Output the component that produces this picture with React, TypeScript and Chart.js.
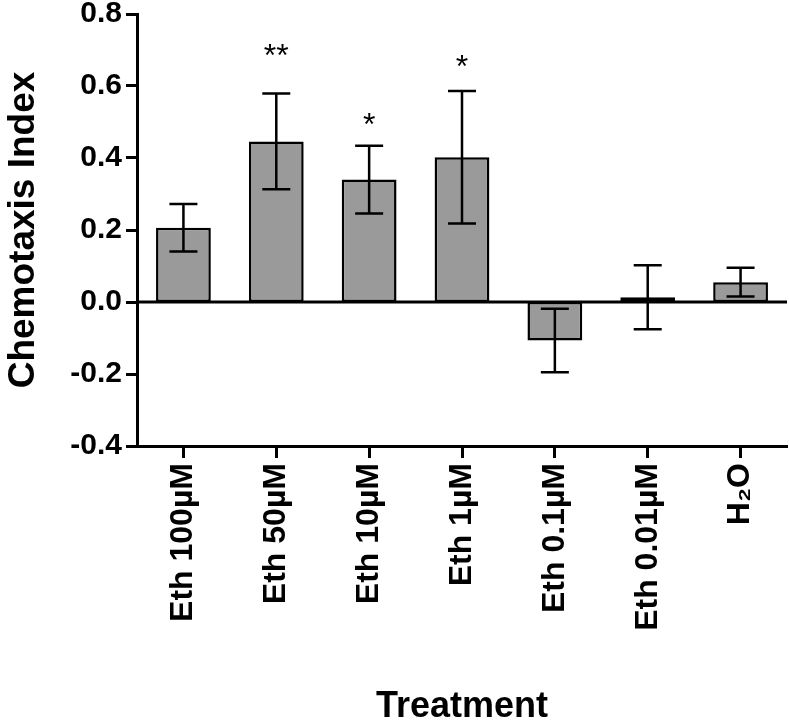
import React, { useEffect, useRef } from 'react';
import { Chart, registerables } from 'chart.js';

Chart.register(...registerables);

// ---- data ----
const categories = ['Eth 100µM', 'Eth 50µM', 'Eth 10µM', 'Eth 1µM', 'Eth 0.1µM', 'Eth 0.01µM', 'H₂O'];
const means = [0.206, 0.446, 0.340, 0.402, -0.107, 0.013, 0.055];
const sems = [0.066, 0.133, 0.094, 0.184, 0.088, 0.089, 0.040];
const sigLabels = ['', '**', '*', '*', '', '', ''];
const sigValues = [0, 0.705, 0.514, 0.675, 0, 0, 0];
const yTicksMin = -0.4;
const yTicksMax = 0.8;
const yTickStep = 0.2;

const FONT = "'Liberation Sans', Arial, Helvetica, sans-serif";

const overlayPlugin = {
  id: 'overlay',
  afterDatasetsDraw(chart: any) {
    const ctx = chart.ctx;
    const y = chart.scales.y;
    const area = chart.chartArea;
    const meta = chart.getDatasetMeta(0);
    ctx.save();
    // zero line
    const y0 = y.getPixelForValue(0);
    ctx.strokeStyle = '#000';
    ctx.lineWidth = 3;
    ctx.beginPath();
    ctx.moveTo(area.left, y0);
    ctx.lineTo(area.right, y0);
    ctx.stroke();
    // error bars
    ctx.lineWidth = 2.5;
    meta.data.forEach((bar: any, i: number) => {
      const cx = bar.x;
      const yt = y.getPixelForValue(means[i] + sems[i]);
      const yb = y.getPixelForValue(means[i] - sems[i]);
      ctx.beginPath();
      ctx.moveTo(cx, yt);
      ctx.lineTo(cx, yb);
      ctx.moveTo(cx - 14, yt);
      ctx.lineTo(cx + 14, yt);
      ctx.moveTo(cx - 14, yb);
      ctx.lineTo(cx + 14, yb);
      ctx.stroke();
      if (sigLabels[i]) {
        ctx.font = `32px ${FONT}`;
        ctx.textAlign = 'center';
        ctx.textBaseline = 'alphabetic';
        ctx.fillStyle = '#000';
        ctx.fillText(sigLabels[i], cx, y.getPixelForValue(sigValues[i]) + 18);
      }
    });
    ctx.restore();
  },
};

export default function App() {
  const ref = useRef<HTMLCanvasElement | null>(null);

  useEffect(() => {
    if (!ref.current) return;
    const chart = new Chart(ref.current, {
      type: 'bar',
      data: {
        labels: categories,
        datasets: [
          {
            data: means,
            backgroundColor: '#9a9a9a',
            borderColor: '#000',
            borderWidth: 2.5,
            borderSkipped: false,
            categoryPercentage: 1,
            barPercentage: 0.59,
          },
        ],
      },
      options: {
        animation: false,
        responsive: false,
        devicePixelRatio: 1,
        layout: { padding: { top: 14, right: 2, left: 0, bottom: 0 } },
        plugins: {
          legend: { display: false },
          tooltip: { enabled: false },
        },
        scales: {
          x: {
            type: 'category',
            offset: true,
            grid: {
              display: true,
              drawOnChartArea: false,
              drawTicks: true,
              tickLength: 12,
              tickWidth: 3,
              tickColor: '#000',
              color: 'transparent',
              offset: false,
            },
            border: { display: true, color: '#000', width: 3 },
            ticks: {
              color: '#000',
              font: { family: FONT, size: 32, weight: 'bold' },
              minRotation: 90,
              maxRotation: 90,
              autoSkip: false,
              padding: 5,
            },
            title: {
              display: true,
              text: 'Treatment',
              color: '#000',
              font: { family: FONT, size: 36, weight: 'bold', lineHeight: 0.8 },
              padding: { top: 0, bottom: 0 },
            },
            afterFit(scale: any) {
              scale.height = 275;
              scale.paddingLeft = 0;
              scale.paddingRight = 0;
            },
          },
          y: {
            min: yTicksMin,
            max: yTicksMax,
            ticks: {
              stepSize: yTickStep,
              color: '#000',
              font: { family: FONT, size: 30, weight: 'bold' },
              padding: 4,
              callback: (v: any) => (Math.abs(Number(v)) < 1e-9 ? '0.0' : Number(v).toFixed(1)),
            },
            grid: {
              display: true,
              drawOnChartArea: false,
              drawTicks: true,
              tickLength: 11,
              tickWidth: 3,
              tickColor: '#000',
              color: 'transparent',
            },
            border: { display: true, color: '#000', width: 3 },
            title: {
              display: true,
              text: 'Chemotaxis Index',
              color: '#000',
              font: { family: FONT, size: 37, weight: 'bold', lineHeight: 1 },
              padding: { top: 5, bottom: 0 },
            },
            afterFit(scale: any) {
              scale.width = 137;
              scale.paddingTop = 0;
              scale.paddingBottom = 0;
            },
          },
        },
      },
      plugins: [overlayPlugin],
    } as any);
    return () => chart.destroy();
  }, []);

  return (
    <div style={{ position: 'absolute', left: 0, top: 0, width: 789, height: 721, background: '#fff' }}>
      <canvas ref={ref} width={789} height={721} style={{ display: 'block' }} />
    </div>
  );
}
